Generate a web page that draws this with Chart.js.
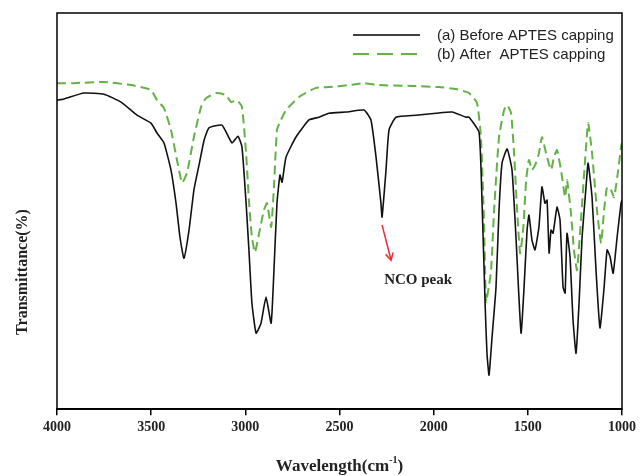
<!DOCTYPE html>
<html>
<head>
<meta charset="utf-8">
<script src="https://cdn.jsdelivr.net/npm/chart.js@4.4.1/dist/chart.umd.min.js"></script>
<style>
  html, body { margin: 0; padding: 0; background: #fff; }
  #wrap { width: 640px; height: 476px; }
</style>
</head>
<body>
<div id="wrap"><canvas id="ftirChart" width="640" height="476"></canvas></div>
<script>
// (a) before APTES capping - wavenumber (cm-1) and transmittance (arb. %)
const beforeWave = [4000,3963,3857,3750,3660,3575,3501,3469,3432,3395,3368,3347,3326,3299,3273,3246,3219,3193,3124,3071,3039,3018,2996,2980,2965,2943,2917,2890,2863,2848,2832,2816,2805,2784,2731,2662,2609,2556,2465,2370,2333,2306,2280,2274,2253,2237,2200,2094,1987,1902,1828,1812,1759,1743,1727,1717,1706,1690,1669,1653,1637,1610,1584,1563,1536,1520,1504,1494,1478,1462,1441,1425,1409,1398,1387,1377,1366,1345,1329,1313,1302,1292,1276,1260,1244,1228,1212,1191,1180,1159,1138,1117,1095,1079,1063,1047,1026,1005,1000];
const beforeT = [78.0,78.3,79.8,79.5,77.5,74.2,72.2,69.7,67.2,60.4,52.0,43.4,38.1,45.2,55.3,61.6,67.9,71.0,71.7,67.2,68.9,66.2,52.0,39.4,26.8,19.2,21.7,28.3,21.7,35.1,52.0,59.1,57.3,63.6,68.7,73.0,73.7,74.7,75.0,75.5,73.0,63.6,52.0,48.5,60.4,70.5,73.7,74.2,74.7,75.0,73.7,73.7,69.9,52.0,26.8,14.1,8.6,18.2,30.8,50.3,62.1,65.7,60.4,43.4,19.2,30.8,45.2,49.0,42.7,40.2,46.0,56.1,52.0,52.8,39.4,45.2,44.4,51.0,47.7,30.8,29.3,44.4,38.4,22.5,14.1,26.8,43.4,56.1,62.1,53.5,35.1,20.5,30.8,40.2,38.4,34.3,43.4,52.0,52.8];

// (b) after APTES capping
const afterWave = [4000,3910,3750,3607,3501,3469,3432,3395,3363,3336,3310,3273,3235,3209,3156,3103,3076,3044,3018,2996,2980,2965,2949,2927,2901,2885,2863,2848,2832,2811,2784,2715,2625,2556,2449,2370,2290,2115,1972,1881,1828,1812,1770,1749,1733,1722,1706,1695,1679,1653,1626,1610,1589,1573,1557,1541,1525,1509,1494,1478,1457,1441,1425,1403,1377,1361,1345,1324,1302,1292,1271,1255,1239,1218,1196,1180,1159,1133,1111,1095,1079,1058,1042,1020,1005,1000];
const afterT = [82.3,82.3,82.6,81.8,80.6,78.0,76.0,70.5,62.9,57.1,59.6,68.7,76.3,78.5,79.8,79.3,77.5,78.0,76.3,64.6,52.0,43.4,39.6,44.4,50.3,52.0,46.0,56.1,70.5,73.0,75.5,78.8,81.1,81.3,81.8,82.3,81.8,81.6,81.3,80.8,80.1,79.8,77.3,68.7,47.7,27.0,31.3,35.1,50.3,68.7,75.5,76.8,74.7,64.6,50.3,39.4,45.2,57.8,62.9,60.4,62.1,64.6,68.7,64.6,60.4,63.6,65.4,60.4,53.5,57.8,49.5,40.2,35.1,47.7,62.9,72.2,64.6,50.3,41.9,50.3,56.1,55.3,53.5,60.4,66.2,67.2];

const xTicks = [4000, 3500, 3000, 2500, 2000, 1500, 1000];
const legendLabels = ['(a) Before APTES capping', '(b) After  APTES capping'];

// NCO peak annotation, in data units: arrow tail, arrow head, label
const ncoArrow = [[2274, 46.5], [2226, 37.6]];
const ncoLabel = [2263, 32.6];

const green = '#63b246';

function toPoints(xs, ys) {
  return xs.map((x, i) => ({ x: x, y: ys[i] }));
}

const extras = {
  id: 'extras',
  afterDraw(chart) {
    const { ctx, chartArea: a, scales } = chart;
    const sx = scales.x, sy = scales.y;
    ctx.save();

    // frame
    ctx.strokeStyle = '#000';
    ctx.lineWidth = 1.5;
    ctx.strokeRect(a.left, a.top, a.right - a.left, a.bottom - a.top);

    // legend
    ctx.font = '15px "Liberation Sans", Arial, sans-serif';
    ctx.textBaseline = 'middle';
    ctx.fillStyle = '#222';
    ctx.lineWidth = 1.6;
    ctx.strokeStyle = '#000';
    ctx.beginPath(); ctx.moveTo(353, 35); ctx.lineTo(420, 35); ctx.stroke();
    ctx.fillText(legendLabels[0], 437, 36);
    ctx.strokeStyle = green;
    ctx.lineWidth = 2;
    ctx.setLineDash([16, 8]);
    ctx.beginPath(); ctx.moveTo(353, 54); ctx.lineTo(420, 54); ctx.stroke();
    ctx.setLineDash([]);
    ctx.fillText(legendLabels[1], 437, 55);

    // NCO arrow
    const x0 = sx.getPixelForValue(ncoArrow[0][0]), y0 = sy.getPixelForValue(ncoArrow[0][1]);
    const x1 = sx.getPixelForValue(ncoArrow[1][0]), y1 = sy.getPixelForValue(ncoArrow[1][1]);
    ctx.strokeStyle = '#e8303a';
    ctx.lineWidth = 1.5;
    ctx.beginPath(); ctx.moveTo(x0, y0); ctx.lineTo(x1, y1); ctx.stroke();
    const ang = Math.atan2(y1 - y0, x1 - x0);
    ctx.beginPath();
    ctx.moveTo(x1 - 8 * Math.cos(ang - 0.5), y1 - 8 * Math.sin(ang - 0.5));
    ctx.lineTo(x1, y1);
    ctx.lineTo(x1 - 8 * Math.cos(ang + 0.5), y1 - 8 * Math.sin(ang + 0.5));
    ctx.stroke();

    ctx.fillStyle = '#222';
    ctx.font = 'bold 15px "Liberation Serif", "Times New Roman", serif';
    ctx.textAlign = 'left';
    ctx.fillText('NCO peak', sx.getPixelForValue(ncoLabel[0]), sy.getPixelForValue(ncoLabel[1]));

    // y title
    ctx.save();
    ctx.translate(23, 272);
    ctx.rotate(-Math.PI / 2);
    ctx.textAlign = 'center';
    ctx.font = 'bold 16px "Liberation Serif", "Times New Roman", serif';
    ctx.fillText('Transmittance(%)', 0, 0);
    ctx.restore();

    // x title with superscript
    const main = 'Wavelength(cm', sup = '-1', tail = ')';
    ctx.textAlign = 'left';
    ctx.textBaseline = 'alphabetic';
    const fMain = 'bold 17px "Liberation Serif", "Times New Roman", serif';
    const fSup = 'bold 10px "Liberation Serif", "Times New Roman", serif';
    ctx.font = fMain; const w1 = ctx.measureText(main).width, w3 = ctx.measureText(tail).width;
    ctx.font = fSup; const w2 = ctx.measureText(sup).width;
    let tx = (a.left + a.right) / 2 - (w1 + w2 + w3) / 2;
    const ty = 471;
    ctx.font = fMain; ctx.fillText(main, tx, ty); tx += w1;
    ctx.font = fSup; ctx.fillText(sup, tx, ty - 8); tx += w2;
    ctx.font = fMain; ctx.fillText(tail, tx, ty);

    ctx.restore();
  }
};

new Chart(document.getElementById('ftirChart'), {
  type: 'line',
  data: {
    datasets: [
      {
        label: legendLabels[0],
        data: toPoints(beforeWave, beforeT),
        borderColor: '#111',
        borderWidth: 1.6,
        pointRadius: 0,
        tension: 0.15,
        fill: false
      },
      {
        label: legendLabels[1],
        data: toPoints(afterWave, afterT),
        borderColor: green,
        borderWidth: 2,
        borderDash: [9, 5],
        pointRadius: 0,
        tension: 0.15,
        fill: false
      }
    ]
  },
  plugins: [extras],
  options: {
    responsive: false,
    animation: false,
    layout: { padding: { left: 57, right: 14, top: 13, bottom: 36 } },
    plugins: {
      legend: { display: false },
      tooltip: { enabled: false }
    },
    scales: {
      x: {
        type: 'linear',
        reverse: true,
        min: 1000,
        max: 4000,
        afterBuildTicks: (s) => { s.ticks = xTicks.map(v => ({ value: v })); },
        grid: { drawOnChartArea: false, drawTicks: true, tickLength: 6, color: '#000', lineWidth: 1.5 },
        border: { display: true, color: '#000', width: 1.5 },
        ticks: {
          color: '#222',
          padding: 4,
          maxRotation: 0,
          callback: (v) => String(v),
          font: { family: '"Liberation Serif", "Times New Roman", serif', size: 14, weight: 'bold' }
        }
      },
      y: {
        display: false,
        min: 0,
        max: 100
      }
    }
  }
});
</script>
</body>
</html>
